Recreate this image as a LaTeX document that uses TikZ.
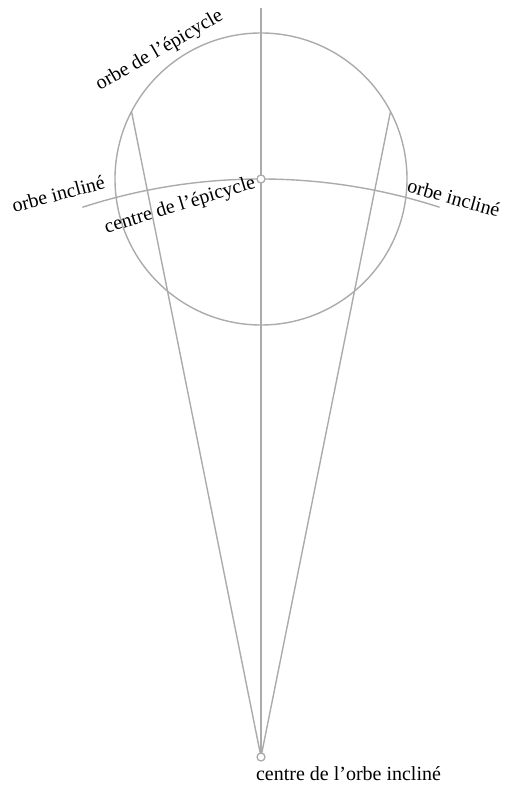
\documentclass[tikz,border=0pt]{standalone}
\usepackage{fontspec}
\setmainfont{Liberation Serif}
\usetikzlibrary{calc}
\begin{document}
\begin{tikzpicture}[x=1pt,y=1pt,
  geo/.style={draw=black!33, line width=1.4pt},
  pt/.style={circle, draw=black!33, fill=white, line width=1.3pt, inner sep=0pt, minimum size=8pt},
  lbl/.style={font=\fontsize{20}{24}\selectfont, anchor=base, inner sep=0pt}]
\useasboundingbox (0,0) rectangle (507,790);
\coordinate (E) at (261,611);
\coordinate (O) at (261,33);
\coordinate (T) at (261,782);
\coordinate (L) at ($(E)+(152.5:146)$);
\coordinate (R) at ($(E)+(27.5:146)$);
\coordinate (A1) at ($(O)+(108:578)$);
\draw[geo] (E) circle (146);
\draw[geo] (T) -- (O);
\draw[geo] (O) -- (L);
\draw[geo] (O) -- (R);
\draw[geo] (A1) arc (108:72:578);
\node[pt] (Ep) at (E) {};
\node[pt] (Op) at (O) {};
\node[lbl, rotate=30] (l1) at (162,735) {orbe de l'épicycle};
\node[lbl, rotate=15] (l2) at (60,589.5) {orbe incliné};
\node[lbl, rotate=17] (l3) at (181.5,579.5) {centre de l'épicycle};
\node[lbl, rotate=-15.5] (l4) at (452,585.5) {orbe incliné};
\node[lbl] (l5) at (348.5,9.3) {centre de l'orbe incliné};
\end{tikzpicture}
\end{document}
